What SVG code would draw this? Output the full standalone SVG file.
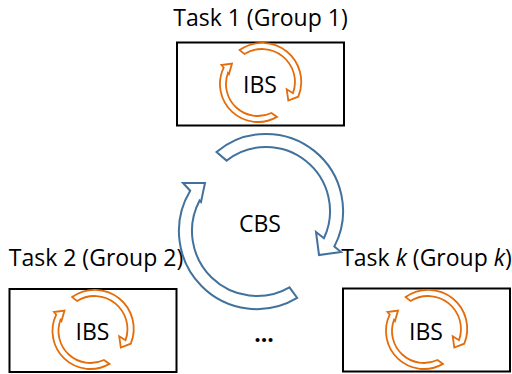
<svg xmlns="http://www.w3.org/2000/svg" xmlns:xlink="http://www.w3.org/1999/xlink" width="512" height="374" viewBox="0 0 512 374">
<style>
  .box{fill:#fff;stroke:#000;stroke-width:2}
  .lbl{font-family:"Open Sans","Liberation Sans",sans-serif;font-size:23px;fill:#000;text-anchor:middle}
  .ibsarr{fill:#fff;stroke:#E46C0A;stroke-width:1.8;stroke-linejoin:miter}
  .cbsarr{fill:#fff;stroke:#41719C;stroke-width:2;stroke-linejoin:miter}
</style>
<defs>
  <g id="ibs-cycle">
    <path class="ibsarr" d="M239.6 50.1 A39 39 0 0 1 298.3 96.7 L288.3 100.5 L286.7 89.3 L293 93.2 A33 33 0 0 0 244.5 54 Z"/>
    <path class="ibsarr" d="M277 116.9 A38 38 0 0 1 223.7 67.6 L221.5 65 L232 63.5 L229 74 L228 72.8 A32 32 0 0 0 271.5 113 Z"/>
    <text class="lbl" x="260" y="93">IBS</text>
  </g>
</defs>

<g id="task1">
  <text class="lbl" x="260.5" y="26">Task 1 (Group 1)</text>
  <rect class="box" x="177" y="42.5" width="167" height="83"/>
  <use xlink:href="#ibs-cycle"/>
</g>

<g id="task2">
  <text class="lbl" x="96" y="266">Task 2 (Group 2)</text>
  <rect class="box" x="9.5" y="289" width="167" height="83"/>
  <use xlink:href="#ibs-cycle" transform="translate(-167.5,247)"/>
</g>

<g id="taskk">
  <text class="lbl" x="426.5" y="266">Task <tspan font-style="italic">k</tspan> (Group <tspan font-style="italic">k</tspan>)</text>
  <rect class="box" x="343" y="288.5" width="167" height="83"/>
  <use xlink:href="#ibs-cycle" transform="translate(166,247)"/>
</g>

<g id="cbs">
  <path class="cbsarr" d="M216.5 152 A77 77 0 0 1 334.3 246.6 L341 252 L319 255 L316 232 L323.9 238.3 A64 64 0 0 0 226.6 160.6 Z"/>
  <path class="cbsarr" d="M297.2 297.9 A78 78 0 0 1 190.2 190.7 L183 183 L205 183 L201 202 L199.6 200.5 A65 65 0 0 0 289.5 287.3 Z"/>
  <text class="lbl" x="260" y="232">CBS</text>
</g>

<g id="ellipsis">
  <text class="lbl" x="264" y="342" font-weight="bold" font-size="28">...</text>
</g>

<g id="connectors"></g>
</svg>
